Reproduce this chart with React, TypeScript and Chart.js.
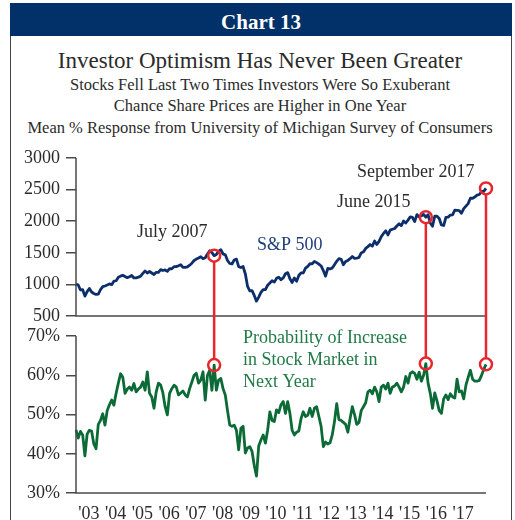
import React, { useEffect, useRef } from 'react';
import { Chart, registerables } from 'chart.js';
Chart.register(...registerables);

// Monthly series, May 2002 – September 2017
const START_YEAR = 2002;
const START_MONTH = 5;

// S&P 500 index level (monthly)
const SP500 = [
  1005, 990, 912, 916, 815, 886, 936, 880,
  856, 841, 848, 917, 964, 975, 990, 1008, 996, 1051, 1058, 1112,
  1131, 1145, 1126, 1107, 1121, 1141, 1102, 1104, 1115, 1130, 1174, 1212,
  1181, 1204, 1181, 1157, 1192, 1191, 1234, 1220, 1229, 1207, 1249, 1248,
  1280, 1281, 1295, 1311, 1270, 1270, 1277, 1304, 1336, 1378, 1401, 1418,
  1438, 1407, 1421, 1482, 1531, 1503, 1455, 1474, 1527, 1549, 1481, 1468,
  1379, 1331, 1323, 1386, 1400, 1280, 1267, 1283, 1165, 969, 896, 903,
  826, 735, 798, 873, 919, 919, 987, 1021, 1057, 1036, 1096, 1115,
  1074, 1104, 1169, 1187, 1089, 1031, 1102, 1049, 1141, 1183, 1181, 1258,
  1286, 1327, 1326, 1364, 1345, 1321, 1292, 1219, 1131, 1253, 1247, 1258,
  1312, 1366, 1408, 1398, 1310, 1362, 1379, 1407, 1441, 1412, 1416, 1426,
  1498, 1515, 1569, 1598, 1631, 1606, 1686, 1633, 1682, 1757, 1806, 1848,
  1783, 1859, 1872, 1884, 1924, 1960, 1931, 2003, 1972, 2018, 2068, 2059,
  1995, 2105, 2068, 2086, 2107, 2063, 2104, 1972, 1920, 2079, 2080, 2044,
  1940, 1932, 2060, 2065, 2097, 2099, 2174, 2171, 2168, 2126, 2199, 2239,
  2279, 2364, 2363, 2384, 2412, 2423, 2470, 2472, 2519,
];

// Probability of increase in stock market in next year (mean %, monthly)
const OPTIMISM = [
  46.1, 44, 45.7, 44.8, 39.5, 45, 46, 45.8,
  42.5, 41.3, 47.5, 48.5, 50.2, 47.3, 51, 52.5, 53.7, 52.4, 55.4, 58,
  60.4, 59.5, 55.4, 56.5, 57, 56.2, 57.9, 55.8, 56.5, 57, 58.3, 56.2,
  60.9, 55.4, 54.5, 51.6, 55.8, 58, 57.5, 55.5, 52, 49.9, 55.4, 56.6,
  57.5, 57, 55, 55.5, 56, 55, 54.5, 56.6, 58.3, 60, 60.5, 58,
  58.8, 60.9, 53.7, 60, 61.3, 56.2, 62.6, 56.2, 58.8, 59.2, 56.6, 55,
  51, 47.3, 47, 47.3, 46, 41, 46.5, 47, 40.2, 41.5, 41.8, 40.6,
  37, 34.3, 42, 43.5, 44.8, 42.7, 46, 50.7, 48.5, 48.2, 51.2, 50.5,
  52.5, 53.3, 50.3, 53.3, 50.3, 46, 44.8, 45.5, 45.8, 49, 50.7, 49.5,
  49.8, 51.6, 49.5, 51.6, 52, 49.5, 47, 41.8, 43, 42.5, 42.8, 44.8,
  48.2, 52.8, 48.7, 48.5, 48, 47.5, 45.5, 49, 52, 50, 47.5, 48,
  51, 52, 53, 55.8, 56.2, 55.3, 57, 55.8, 53.3, 57, 57.5, 56.5,
  58, 55.4, 57, 57.3, 58, 57, 55.8, 57, 59.7, 58, 60.5, 60.9,
  60.5, 59, 60.8, 58.5, 60, 63, 58, 55.4, 51.6, 55.5, 53.5, 51,
  50.3, 54, 55, 53.8, 55.3, 54.5, 54.2, 59, 55.8, 56, 54, 57.5,
  59.5, 61.3, 59, 58.5, 58.5, 58.7, 60, 61.5, 62.8,
];

const MONTHS = SP500.map((_, i) => {
  const m = START_MONTH - 1 + i;
  return `${START_YEAR + Math.floor(m / 12)}-${String((m % 12) + 1).padStart(2, '0')}`;
});

const SP_TICKS = [500, 1000, 1500, 2000, 2500, 3000];
const PCT_TICKS = [30, 40, 50, 60, 70];
const HIGHLIGHTS = ['2007-07', '2015-06', '2017-09'];

const SERIF = "'Liberation Serif', 'Times New Roman', serif";
const TEXT = '#2b2b2b';
const AXIS = '#4a4a4a';
const NAVY_LINE = '#0c2e6b';
const NAVY_TEXT = '#1d3f78';
const GREEN_LINE = '#0b6a36';
const GREEN_TEXT = '#1f7a45';
const RED = '#e8262d';
const HEADER = '#023068';

const NOTES = [
  { text: 'July 2007', x: 137, y: 237, color: TEXT },
  { text: 'S&P 500', x: 257, y: 250, color: NAVY_TEXT },
  { text: 'June 2015', x: 337, y: 207, color: TEXT },
  { text: 'September 2017', x: 357, y: 177, color: TEXT },
  { text: 'Probability of Increase', x: 243, y: 343, color: GREEN_TEXT },
  { text: 'in Stock Market in', x: 243, y: 365, color: GREEN_TEXT },
  { text: 'Next Year', x: 243, y: 387, color: GREEN_TEXT },
];

const overlay = {
  id: 'overlay',
  afterDatasetsDraw(chart: any) {
    const { ctx, chartArea: a, scales } = chart;
    const xs = scales.x, yS = scales.yS, yP = scales.yP;
    ctx.save();
    ctx.strokeStyle = AXIS;
    ctx.lineWidth = 1.5;
    ctx.beginPath();
    ctx.moveTo(a.left, yS.getPixelForValue(SP_TICKS[SP_TICKS.length - 1]));
    ctx.lineTo(a.left, yS.getPixelForValue(SP_TICKS[0]));
    ctx.lineTo(a.right, yS.getPixelForValue(SP_TICKS[0]));
    ctx.moveTo(a.left, yP.getPixelForValue(PCT_TICKS[PCT_TICKS.length - 1]));
    ctx.lineTo(a.left, yP.getPixelForValue(PCT_TICKS[0]));
    ctx.lineTo(a.right, yP.getPixelForValue(PCT_TICKS[0]));
    ctx.stroke();

    const R = 6;
    ctx.strokeStyle = RED;
    ctx.lineWidth = 2.5;
    HIGHLIGHTS.forEach((m) => {
      const i = MONTHS.indexOf(m);
      const px = xs.getPixelForValue(i);
      const t = yS.getPixelForValue(SP500[i]);
      const b = yP.getPixelForValue(OPTIMISM[i]);
      ctx.beginPath();
      ctx.moveTo(px, t + R);
      ctx.lineTo(px, b - R);
      ctx.stroke();
      ctx.beginPath();
      ctx.arc(px, t, R, 0, Math.PI * 2);
      ctx.stroke();
      ctx.beginPath();
      ctx.arc(px, b, R, 0, Math.PI * 2);
      ctx.stroke();
    });

    ctx.font = `18px ${SERIF}`;
    ctx.textAlign = 'left';
    ctx.textBaseline = 'alphabetic';
    NOTES.forEach((n) => {
      ctx.fillStyle = n.color;
      ctx.fillText(n.text, n.x, n.y);
    });
    ctx.restore();
  },
};

const yGrid = { display: true, drawOnChartArea: false, drawTicks: true, tickLength: 10, color: AXIS, lineWidth: 1.5 };
const yTicks = { color: TEXT, font: { family: SERIF, size: 18 }, padding: 6, autoSkip: false };

export default function App() {
  const ref = useRef<HTMLCanvasElement>(null);
  useEffect(() => {
    if (!ref.current) return;
    const chart = new Chart(ref.current, {
      type: 'line',
      data: {
        labels: MONTHS,
        datasets: [
          {
            label: 'S&P 500',
            data: SP500,
            yAxisID: 'yS',
            borderColor: NAVY_LINE,
            borderWidth: 2.8,
            pointRadius: 0,
            tension: 0,
            borderJoinStyle: 'round',
          },
          {
            label: 'Probability of Increase in Stock Market in Next Year',
            data: OPTIMISM,
            yAxisID: 'yP',
            borderColor: GREEN_LINE,
            borderWidth: 2.8,
            pointRadius: 0,
            tension: 0,
            borderJoinStyle: 'round',
          },
        ],
      },
      options: {
        responsive: false,
        animation: false,
        layout: { padding: { left: 8, right: 29, top: 158, bottom: 0 } },
        plugins: { legend: { display: false }, tooltip: { enabled: false } },
        scales: {
          x: {
            type: 'category',
            grid: { display: false },
            border: { display: false },
            ticks: {
              autoSkip: false,
              maxRotation: 0,
              minRotation: 0,
              padding: 2,
              labelOffset: -5,
              color: TEXT,
              font: { family: SERIF, size: 18 },
              callback: (v: any) => {
                const m = MONTHS[v as number];
                return m && m.endsWith('-01') ? "'" + m.slice(2, 4) : null;
              },
            },
            afterFit: (s: any) => { s.height = 27; },
          },
          yP: {
            type: 'linear',
            position: 'left',
            stack: 'main',
            stackWeight: 1,
            weight: 0,
            min: 30,
            max: 72.7,
            afterBuildTicks: (s: any) => { s.ticks = PCT_TICKS.map((v) => ({ value: v })); },
            ticks: { ...yTicks, callback: (v: any) => `${v}%` },
            grid: yGrid,
            border: { display: false },
            afterFit: (s: any) => { s.width = 68; },
          },
          yS: {
            type: 'linear',
            position: 'left',
            stack: 'main',
            stackWeight: 1,
            weight: 1,
            min: 350,
            max: 3000,
            afterBuildTicks: (s: any) => { s.ticks = SP_TICKS.map((v) => ({ value: v })); },
            ticks: { ...yTicks, callback: (v: any) => `${v}` },
            grid: yGrid,
            border: { display: false },
            afterFit: (s: any) => { s.width = 68; },
          },
        },
      },
      plugins: [overlay],
    } as any);
    return () => chart.destroy();
  }, []);

  const line = (text: string, size: number, baseline: number, extra: any = {}) => (
    <div
      style={{
        position: 'absolute',
        left: 10,
        width: 500,
        top: baseline - 0.8375 * size,
        fontSize: size,
        lineHeight: `${size}px`,
        textAlign: 'center',
        fontFamily: SERIF,
        color: TEXT,
        whiteSpace: 'nowrap',
        ...extra,
      }}
    >
      {text}
    </div>
  );

  return (
    <div style={{ position: 'fixed', left: 0, top: 0, width: 515, height: 520, background: '#fff', overflow: 'hidden' }}>
      <div style={{ position: 'absolute', left: 10, top: 3, width: 502, height: 33, background: HEADER }} />
      <div style={{ position: 'absolute', left: 10, top: 36, width: 500, height: 490, borderLeft: '1px solid #444', borderRight: '1px solid #444' }} />
      {line('Chart 13', 21, 30, { left: 11, width: 500, color: '#fff', fontWeight: 'bold' })}
      {line('Investor Optimism Has Never Been Greater', 23, 68.3)}
      {line('Stocks Fell Last Two Times Investors Were So Exuberant', 16.5, 90.7)}
      {line('Chance Share Prices are Higher in One Year', 16.5, 112)}
      {line('Mean % Response from University of Michigan Survey of Consumers', 16.5, 134)}
      <canvas ref={ref} width={515} height={520} style={{ position: 'absolute', left: 0, top: 0 }} />
    </div>
  );
}
